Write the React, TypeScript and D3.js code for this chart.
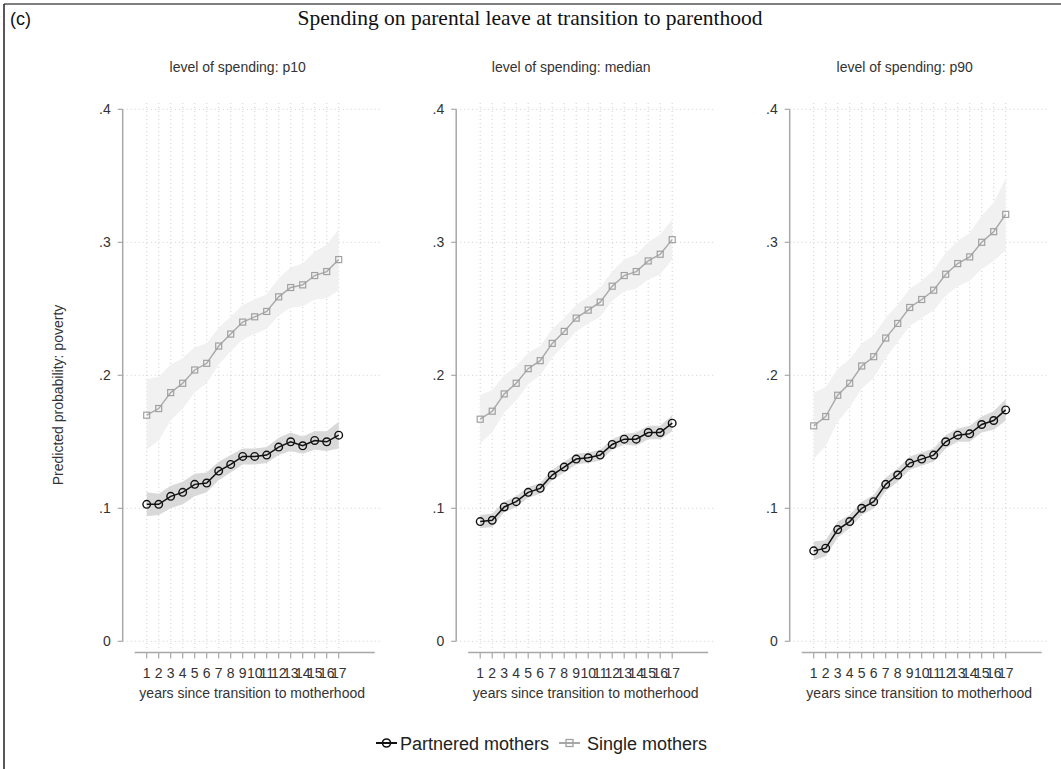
import * as d3 from 'd3';
import * as React from 'react';

// years since transition to motherhood
const years = d3.range(1, 18);
const xTickLabels = years.map(String);
const yTicks = [0, 0.1, 0.2, 0.3, 0.4];
const yTickLabels = ['0', '.1', '.2', '.3', '.4'];

const panelTitles = ['level of spending: p10', 'level of spending: median', 'level of spending: p90'];

// partnered mothers: estimate, lower and upper bound per panel
const partneredP10 = [.103, .103, .109, .112, .118, .119, .128, .133, .139, .139, .140, .146, .150, .147, .151, .150, .155];
const partneredP10Lo = [.094, .095, .100, .103, .109, .112, .121, .127, .133, .133, .134, .140, .143, .141, .144, .143, .145];
const partneredP10Hi = [.112, .111, .117, .120, .126, .127, .135, .140, .145, .145, .146, .153, .157, .154, .158, .158, .165];

const partneredMed = [.090, .091, .101, .105, .112, .115, .125, .131, .137, .138, .140, .148, .152, .152, .157, .157, .164];
const partneredMedLo = [.085, .086, .097, .101, .108, .111, .121, .127, .133, .134, .136, .144, .148, .147, .152, .152, .158];
const partneredMedHi = [.095, .096, .105, .109, .116, .119, .129, .135, .141, .142, .144, .152, .156, .157, .162, .162, .170];

const partneredP90 = [.068, .070, .084, .090, .100, .105, .118, .125, .134, .137, .140, .150, .155, .156, .163, .166, .174];
const partneredP90Lo = [.061, .064, .078, .085, .095, .100, .113, .120, .129, .132, .135, .145, .150, .150, .157, .159, .166];
const partneredP90Hi = [.075, .076, .090, .095, .105, .110, .123, .130, .139, .142, .145, .155, .160, .162, .169, .173, .182];

// single mothers
const singleP10 = [.170, .175, .187, .194, .204, .209, .222, .231, .240, .244, .248, .259, .266, .268, .275, .278, .287];
const singleP10Lo = [.144, .151, .166, .175, .187, .194, .208, .218, .227, .231, .235, .245, .251, .252, .257, .258, .264];
const singleP10Hi = [.197, .199, .208, .213, .221, .224, .236, .244, .253, .257, .261, .273, .281, .284, .293, .298, .310];

const singleMed = [.167, .173, .186, .194, .205, .211, .224, .233, .243, .249, .255, .267, .275, .278, .286, .291, .302];
const singleMedLo = [.149, .157, .172, .181, .193, .200, .213, .223, .233, .239, .244, .256, .263, .265, .272, .276, .287];
const singleMedHi = [.185, .189, .200, .207, .217, .222, .235, .243, .253, .259, .266, .278, .287, .291, .300, .306, .317];

const singleP90 = [.162, .169, .185, .194, .207, .214, .228, .239, .251, .257, .264, .276, .284, .289, .300, .308, .321];
const singleP90Lo = [.137, .147, .165, .176, .190, .198, .213, .225, .237, .243, .249, .260, .267, .271, .280, .286, .294];
const singleP90Hi = [.187, .191, .205, .212, .224, .230, .243, .253, .265, .271, .279, .292, .301, .307, .320, .330, .348];

const panels = [
    {title: panelTitles[0], p: [partneredP10, partneredP10Lo, partneredP10Hi], s: [singleP10, singleP10Lo, singleP10Hi]},
    {title: panelTitles[1], p: [partneredMed, partneredMedLo, partneredMedHi], s: [singleMed, singleMedLo, singleMedHi]},
    {title: panelTitles[2], p: [partneredP90, partneredP90Lo, partneredP90Hi], s: [singleP90, singleP90Lo, singleP90Hi]},
];

const W = 1061;
const H = 769;
const sans = '"Liberation Sans", Arial, sans-serif';
const panelX0 = 134.7;   // pixel of year 0 in first panel
const panelStep = 333.5;
const xAxisY = 652.5;
const tickSize = 5;

const y = d3.scaleLinear().domain([0, 0.4]).range([641.3, 109.3]);

interface Pt { x: number; v: number; lo: number; hi: number; }

function Panel({idx}: {idx: number}) {
    const panel = panels[idx];
    const x0 = panelX0 + idx * panelStep;
    const x = d3.scaleLinear().domain([0, 20]).range([x0, x0 + 240]);
    const axisX = x0 - 12;
    const right = axisX + 259;

    const toPts = (arr: number[][]): Pt[] => years.map((yr, i) => ({x: yr, v: arr[0][i], lo: arr[1][i], hi: arr[2][i]}));
    const pPts = toPts(panel.p);
    const sPts = toPts(panel.s);

    const area = d3.area<Pt>().x((d) => x(d.x)).y0((d) => y(d.lo)).y1((d) => y(d.hi));
    const line = d3.line<Pt>().x((d) => x(d.x)).y((d) => y(d.v));

    return (
        <g>
            {/* grid */}
            {years.map((t) => (
                <line key={'vg' + t} x1={x(t)} x2={x(t)} y1={103} y2={648} stroke='#cfcfcf' strokeDasharray='1,3' />
            ))}
            {yTicks.map((t) => (
                <line key={'hg' + t} x1={axisX} x2={right} y1={y(t)} y2={y(t)} stroke='#cfcfcf' strokeDasharray='1,3' />
            ))}

            {/* bands */}
            <path d={area(sPts) || ''} fill='#f1f1f1' />
            <path d={area(pPts) || ''} fill='#d9d9d9' />

            {/* single mothers */}
            <path d={line(sPts) || ''} fill='none' stroke='#a8a8a8' strokeWidth={1.4} />
            {sPts.map((d) => (
                <rect key={'s' + d.x} x={x(d.x) - 3} y={y(d.v) - 3} width={6} height={6} fill='none' stroke='#a0a0a0' strokeWidth={1.2} />
            ))}

            {/* partnered mothers */}
            <path d={line(pPts) || ''} fill='none' stroke='#111' strokeWidth={1.5} />
            {pPts.map((d) => (
                <circle key={'p' + d.x} cx={x(d.x)} cy={y(d.v)} r={3.8} fill='none' stroke='#111' strokeWidth={1.4} />
            ))}

            {/* y axis */}
            <line x1={axisX} x2={axisX} y1={y(0.4)} y2={y(0)} stroke='#a8a8a8' strokeWidth={1.5} />
            {yTicks.map((t, i) => (
                <g key={'yt' + t} transform={`translate(${axisX},${y(t)})`}>
                    <line x1={-tickSize} x2={0} y1={0} y2={0} stroke='#a8a8a8' strokeWidth={1.2} />
                    <text x={-tickSize - 7} y={5} textAnchor='end' fontSize={14} fill='#333' fontFamily={sans}>{yTickLabels[i]}</text>
                </g>
            ))}

            {/* x axis */}
            <line x1={x(0)} x2={x(20)} y1={xAxisY} y2={xAxisY} stroke='#a8a8a8' strokeWidth={1.5} />
            {years.map((t, i) => (
                <g key={'xt' + t} transform={`translate(${x(t)},${xAxisY})`}>
                    <line x1={0} x2={0} y1={0} y2={tickSize + 1} stroke='#a8a8a8' strokeWidth={1.2} />
                    <text y={25} textAnchor='middle' fontSize={14} fill='#333' fontFamily={sans}>{xTickLabels[i]}</text>
                </g>
            ))}
            <text x={(axisX + right) / 2} y={698} textAnchor='middle' fontSize={14} fill='#333' fontFamily={sans}>
                years since transition to motherhood
            </text>

            <text x={axisX + 115} y={72} textAnchor='middle' fontSize={14} fill='#333' fontFamily={sans}>{panel.title}</text>
        </g>
    );
}

export default function App() {
    return (
        <svg width={W} height={H} style={{position: 'absolute', left: 0, top: 0, background: '#fff'}}>
            <rect x={0} y={0} width={W} height={H} fill='#fff' />
            <line x1={4} x2={W} y1={4} y2={4} stroke='#555' strokeWidth={1.5} />
            <line x1={4} x2={4} y1={4} y2={H} stroke='#222' strokeWidth={1.5} />

            <text x={10} y={25} fontSize={18} fill='#111' fontFamily={sans}>(c)</text>
            <text x={530} y={25} textAnchor='middle' fontSize={21.5} fill='#111' fontFamily='"Liberation Serif", "Times New Roman", serif'>
                Spending on parental leave at transition to parenthood
            </text>

            <text transform='translate(63,395) rotate(-90)' textAnchor='middle' fontSize={14} fill='#333' fontFamily={sans}>
                Predicted probability: poverty
            </text>

            {panels.map((p, i) => <Panel key={i} idx={i} />)}

            {/* legend */}
            <g transform='translate(0,743)'>
                <line x1={376} x2={397} y1={0} y2={0} stroke='#111' strokeWidth={2} />
                <circle cx={386.5} cy={0} r={4} fill='none' stroke='#111' strokeWidth={1.6} />
                <text x={400} y={6.5} fontSize={18} fill='#222' fontFamily={sans}>Partnered mothers</text>
                <line x1={559} x2={580} y1={0} y2={0} stroke='#a8a8a8' strokeWidth={2} />
                <rect x={566} y={-3.5} width={7} height={7} fill='none' stroke='#a0a0a0' strokeWidth={1.3} />
                <text x={587} y={6.5} fontSize={18} fill='#222' fontFamily={sans}>Single mothers</text>
            </g>
        </svg>
    );
}
